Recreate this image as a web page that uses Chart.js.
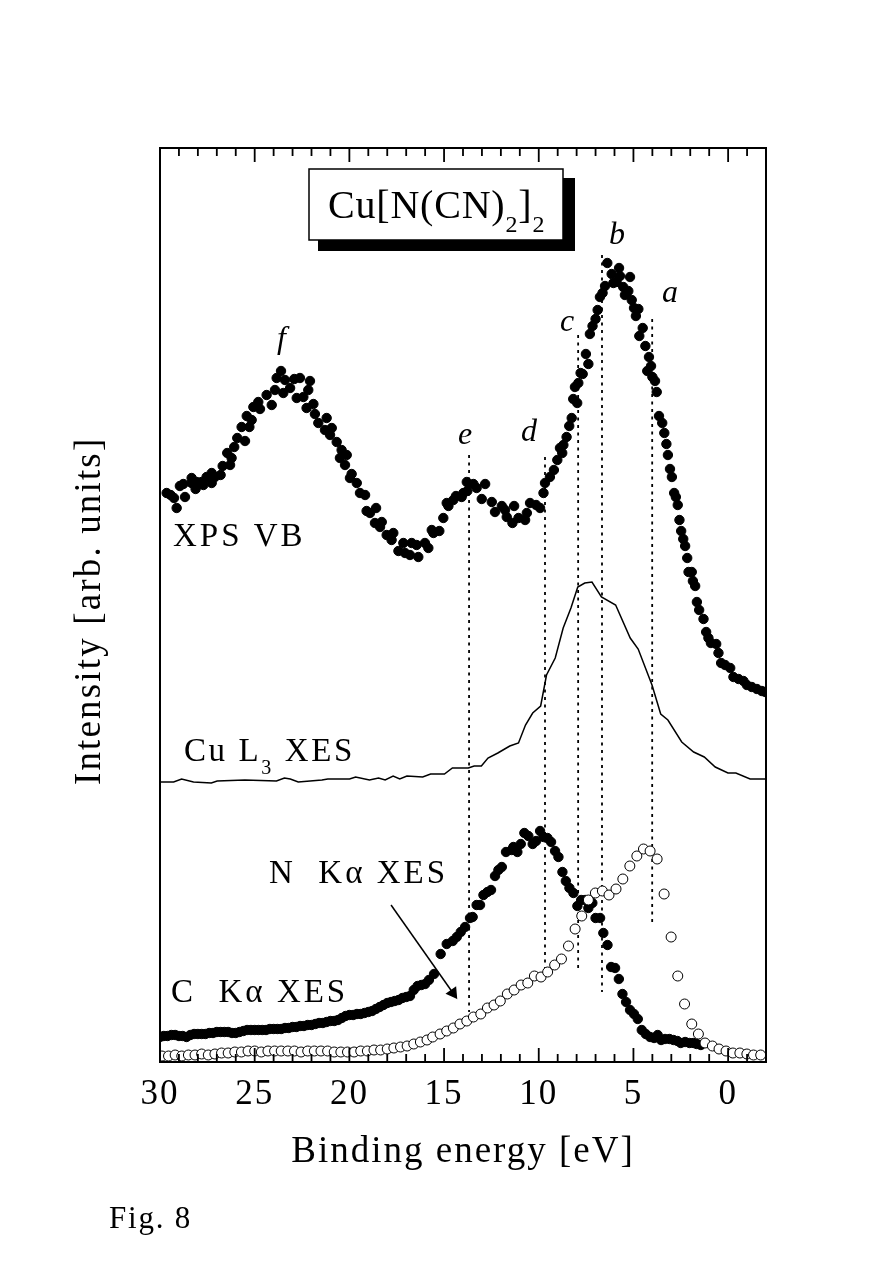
<!DOCTYPE html>
<html><head><meta charset="utf-8">
<style>html,body{margin:0;padding:0;background:#fff}canvas{display:block}</style>
<script src="https://cdn.jsdelivr.net/npm/chart.js@4"></script></head>
<body><canvas id="c" width="891" height="1273" style="width:891px;height:1273px"></canvas>
<script>
const xpsEnergy=[29.65,29.44,29.26,29.12,28.68,28.95,28.77,28.33,28.33,28.12,28.06,27.8,27.71,27.54,27.27,27.27,27.1,26.8,26.69,26.3,26.22,26.45,26.08,25.92,25.51,25.69,25.28,25.16,25.42,25.07,24.72,24.81,24.37,24.1,23.93,23.84,23.61,23.4,23.49,23.13,22.91,22.61,22.08,22.17,22.43,22.78,22.26,21.9,21.82,21.64,21.2,21.29,20.93,21.02,20.67,20.41,20.5,20.14,20.23,19.88,19.97,19.61,19.44,19.17,19.09,18.91,18.59,18.65,18.29,18.38,18.03,17.68,17.77,17.41,17.15,17.06,16.71,16.8,16.36,16.45,16.01,15.83,15.65,15.56,15.25,15.04,14.86,14.77,14.51,14.37,14.07,13.98,13.77,13.8,13.45,13.28,12.83,13.01,12.48,12.31,11.95,11.78,11.69,11.3,11.39,11.07,10.72,10.63,10.46,10.14,9.93,9.75,9.67,9.41,9.2,9.02,8.76,8.88,8.7,8.53,8.39,8.26,7.97,8.18,8.09,7.91,7.79,7.68,7.38,7.51,7.3,7.16,7.0,6.89,6.77,6.63,6.5,6.38,6.15,6.06,5.89,5.76,5.71,5.54,5.45,5.27,5.18,5.09,4.97,4.87,4.74,4.69,4.51,4.37,4.27,4.18,4.07,4.0,3.86,3.77,3.65,3.48,3.37,3.26,3.18,3.07,2.97,2.85,2.76,2.66,2.57,2.48,2.37,2.27,2.16,2.09,1.92,1.86,1.74,1.65,1.53,1.3,1.16,1.04,0.91,0.63,0.51,0.37,0.16,-0.11,-0.28,-0.55,-0.81,-0.99,-1.25,-1.52,-1.78,-1.96];
const xpsIntensity=[569,567,564,554,565,576,578,584,579,573,580,580,577,585,579,589,585,587,596,597,604,609,615,624,621,635,635,642,646,655,653,660,667,657,672,684,691,682,669,674,683,684,681,672,665,664,654,658,648,639,644,632,634,627,620,612,604,607,597,588,584,579,569,567,551,549,554,539,540,535,527,529,522,511,519,509,519,507,505,517,519,514,532,529,531,544,559,556,562,566,565,569,571,580,578,574,578,563,560,550,556,552,545,556,539,544,542,549,559,557,554,569,579,585,592,602,609,614,617,625,636,644,659,663,675,679,689,688,698,708,728,736,743,752,765,769,776,799,788,779,780,794,786,775,767,771,785,762,754,746,753,726,734,716,691,705,696,685,681,670,646,639,629,618,607,593,585,569,565,557,542,531,523,516,504,490,490,481,476,460,452,443,430,424,419,418,409,399,397,394,385,383,381,377,375,373,371,370];
const cuEnergy=[30.0,29.28,28.86,28.23,27.29,26.98,25.52,23.85,23.43,23.12,22.7,21.45,21.14,19.99,19.67,18.94,18.46,18.11,17.69,17.34,16.96,16.13,15.71,14.98,14.56,13.72,13.41,13.03,12.68,12.16,11.53,11.07,10.7,10.32,9.9,9.59,9.13,8.71,8.3,7.94,7.57,7.19,6.69,5.94,5.17,4.75,4.02,3.56,3.18,2.45,1.82,1.26,0.68,0.01,-0.41,-1.16,-2.0];
const cuIntensity=[280,280,283,280,279,281,282,281,284,283,280,282,283,283,285,282,284,282,286,283,286,285,288,288,294,294,296,296,304,309,316,319,337,349,356,387,404,434,454,475,479,480,465,457,424,413,377,348,342,320,310,305,295,289,289,283,283];
const cKaEnergy=[30.0,29.8,29.6,29.4,29.2,29.0,28.8,28.6,28.4,28.2,28.0,27.8,27.6,27.4,27.2,27.0,26.8,26.6,26.4,26.2,26.0,25.8,25.6,25.4,25.2,25.0,24.8,24.6,24.4,24.2,24.0,23.8,23.6,23.4,23.2,23.0,22.8,22.6,22.4,22.2,22.0,21.8,21.6,21.4,21.2,21.0,20.8,20.6,20.4,20.2,20.0,19.8,19.6,19.4,19.2,19.0,18.8,18.6,18.4,18.2,18.0,17.8,17.6,17.4,17.2,17.0,16.8,16.6,16.4,16.2,16.0,15.8,15.53,15.18,14.86,14.54,14.33,14.12,13.89,13.63,13.49,13.28,13.1,12.92,12.71,12.52,12.31,12.13,11.95,11.73,11.43,11.34,11.13,10.95,10.76,10.55,10.32,10.14,9.93,9.75,9.54,9.35,9.14,8.96,8.75,8.57,8.38,8.17,7.96,7.76,7.55,7.38,7.17,7.0,6.76,6.59,6.37,6.18,5.97,5.77,5.58,5.39,5.18,4.97,4.77,4.56,4.35,4.12,3.91,3.72,3.54,3.33,3.1,2.89,2.68,2.5,2.27,2.04,1.83,1.66,1.44];
const cKaIntensity=[25,26,26,27,27,26,26,25,27,28,28,28,28,29,29,30,30,30,30,29,29,30,31,32,32,32,32,32,32,33,33,33,33,34,34,35,35,36,36,37,37,38,39,39,40,41,41,42,44,46,47,47,48,48,49,50,51,53,55,57,59,60,61,62,64,65,66,72,76,77,78,82,88,108,118,121,125,130,135,144,145,157,157,167,170,172,186,192,195,210,212,215,210,218,229,226,218,221,231,225,224,220,211,205,190,181,174,169,156,162,162,154,159,144,144,129,117,95,94,83,68,60,52,48,43,32,28,25,24,27,22,23,23,22,21,19,20,19,19,18,17];
const nKaEnergy=[29.9,29.55,29.2,28.85,28.5,28.15,27.8,27.45,27.1,26.75,26.4,26.05,25.7,25.35,25.0,24.65,24.3,23.95,23.6,23.25,22.9,22.55,22.2,21.85,21.5,21.15,20.8,20.45,20.1,19.75,19.4,19.05,18.7,18.35,18.0,17.65,17.3,16.95,16.6,16.25,15.9,15.6,15.21,14.86,14.51,14.16,13.8,13.45,13.06,12.71,12.36,12.03,11.66,11.3,10.93,10.58,10.23,9.88,9.53,9.16,8.8,8.43,8.08,7.73,7.38,7.01,6.64,6.29,5.92,5.56,5.19,4.82,4.47,4.12,3.75,3.38,3.01,2.66,2.3,1.92,1.57,1.22,0.83,0.48,0.11,-0.25,-0.62,-0.99,-1.34,-1.72];
const nKaIntensity=[6,6,7,6,7,7,8,7,8,9,9,10,10,11,11,10,11,11,11,11,11,10,11,11,11,11,10,10,10,10,11,11,12,12,13,14,15,16,18,20,22,25,28,31,34,38,41,45,48,54,57,61,68,72,77,79,86,85,90,97,103,116,133,146,162,169,171,167,173,183,196,206,213,211,203,168,125,86,58,38,28,19,16,13,11,9,9,8,7,7];
const peakNames=["a","b","c","d","e"];
const peakEnergy=[4.01,6.66,7.92,9.67,13.68];
const peakTop=[743,807,727,605,607];
const peakBottom=[139,70,94,87,50];
const arrowEnergy=[17.8,14.53];
const arrowIntensity=[157,69];
const majorTicks=[30,25,20,15,10,5,0];
const minorTicks=[29,28,27,26,24,23,22,21,19,18,17,16,14,13,12,11,9,8,7,6,4,3,2,1,-1];
const xTitle="Binding energy [eV]";
const yTitle="Intensity [arb. units]";
const SERIF='"Liberation Serif"';

function pts(x,y){return x.map((v,i)=>({x:v,y:y[i]}));}
const dots=(label,x,y,fill,border,r,order)=>({label,type:'scatter',data:pts(x,y),showLine:false,pointRadius:r,pointHoverRadius:r,backgroundColor:fill,borderColor:border,pointBorderWidth:1,order});
const datasets=[
  dots('N Kα XES',nKaEnergy,nKaIntensity,'#fff','#000',5,1),
  dots('C Kα XES',cKaEnergy,cKaIntensity,'#000','#000',4.7,3),
  dots('XPS VB',xpsEnergy,xpsIntensity,'#000','#000',4.7,3),
  {label:'Cu L3 XES',type:'line',data:pts(cuEnergy,cuIntensity),borderColor:'#000',borderWidth:1.5,pointRadius:0,tension:0,order:2},
  ...peakNames.map((n,i)=>({label:'peak '+n,type:'line',data:[{x:peakEnergy[i],y:peakTop[i]},{x:peakEnergy[i],y:peakBottom[i]}],borderColor:'#000',borderWidth:1.8,borderDash:[3,4.5],pointRadius:0,order:4})),
  {label:'arrow',type:'line',data:pts(arrowEnergy,arrowIntensity),borderColor:'#000',borderWidth:1.5,pointRadius:[0,6],pointStyle:'triangle',pointRotation:145,pointBackgroundColor:'#000',pointBorderColor:'#000',order:0}
];
function txt(ctx,parts,x,y,ls){
  ctx.letterSpacing=ls+'px';
  ctx.textBaseline='alphabetic';ctx.textAlign='left';ctx.fillStyle='#000';
  let cx=x;
  for(const p of parts){
    ctx.font=(p.i?'italic ':'')+p.s+'px '+SERIF;
    ctx.fillText(p.t,cx,y+(p.d||0));
    cx+=ctx.measureText(p.t).width;
  }
}
const fig={id:'fig',
  beforeDraw(c){c.ctx.letterSpacing='2px';},
  afterDraw(c){
    const ctx=c.ctx,a=c.chartArea,xs=c.scales.x;
    ctx.save();
    ctx.strokeStyle='#000';ctx.lineWidth=2;
    ctx.strokeRect(a.left,a.top,a.right-a.left,a.bottom-a.top);
    const tick=(v,l)=>{const p=xs.getPixelForValue(v);
      ctx.beginPath();ctx.moveTo(p,a.top);ctx.lineTo(p,a.top+l);ctx.moveTo(p,a.bottom);ctx.lineTo(p,a.bottom-l);ctx.stroke();};
    ctx.lineWidth=1.8;
    majorTicks.forEach(v=>tick(v,14));
    minorTicks.forEach(v=>tick(v,8));
    // title box
    ctx.fillStyle='#000';ctx.fillRect(318,178,257,73);
    ctx.fillStyle='#fff';ctx.fillRect(309,169,254,71);
    ctx.strokeStyle='#000';ctx.lineWidth=1.5;ctx.strokeRect(309,169,254,71);
    txt(ctx,[{t:'Cu[N(CN)',s:40},{t:'2',s:24,d:14},{t:']',s:40},{t:'2',s:24,d:14}],328,218,0.8);
    const S=33,L=3;
    txt(ctx,[{t:'XPS VB',s:S}],173,546,L);
    txt(ctx,[{t:'Cu L',s:S},{t:'3',s:20,d:13},{t:' XES',s:S}],184,761,2.6);
    txt(ctx,[{t:'N  Kα XES',s:S}],269,883,L);
    txt(ctx,[{t:'C  Kα XES',s:S}],171,1002,L);
    txt(ctx,[{t:'Fig. 8',s:31}],109,1228,1.8);
    [['f',277,348],['e',458,444],['d',521,441],['c',560,331],['b',609,244],['a',662,302]].forEach(l=>txt(ctx,[{t:l[0],s:32,i:1}],l[1],l[2],0));
    ctx.translate(100,785);ctx.rotate(-Math.PI/2);
    txt(ctx,[{t:yTitle,s:37}],0,0,2.15);
    ctx.restore();
  }};
new Chart(document.getElementById('c'),{
  data:{datasets},
  plugins:[fig],
  options:{responsive:false,animation:false,devicePixelRatio:1,
    layout:{padding:{left:0,top:148,right:125,bottom:99}},
    plugins:{legend:{display:false},tooltip:{enabled:false}},
    scales:{
      x:{type:'linear',reverse:true,min:-2,max:30,position:'bottom',
        afterFit(s){s.height=112;},
        afterBuildTicks(s){s.ticks=majorTicks.map(v=>({value:v}));},
        grid:{display:false,drawTicks:false},border:{display:false},
        ticks:{color:'#000',font:{family:SERIF,size:35},padding:12,maxRotation:0,autoSkip:false,callback:v=>String(v)},
        title:{display:true,text:xTitle,color:'#000',font:{family:SERIF,size:37},padding:{top:14,bottom:0}}},
      y:{type:'linear',min:0,max:914,position:'left',
        afterFit(s){s.width=160;},
        grid:{display:false,drawTicks:false},border:{display:false},
        ticks:{display:false}}
    }}
});
</script></body></html>
